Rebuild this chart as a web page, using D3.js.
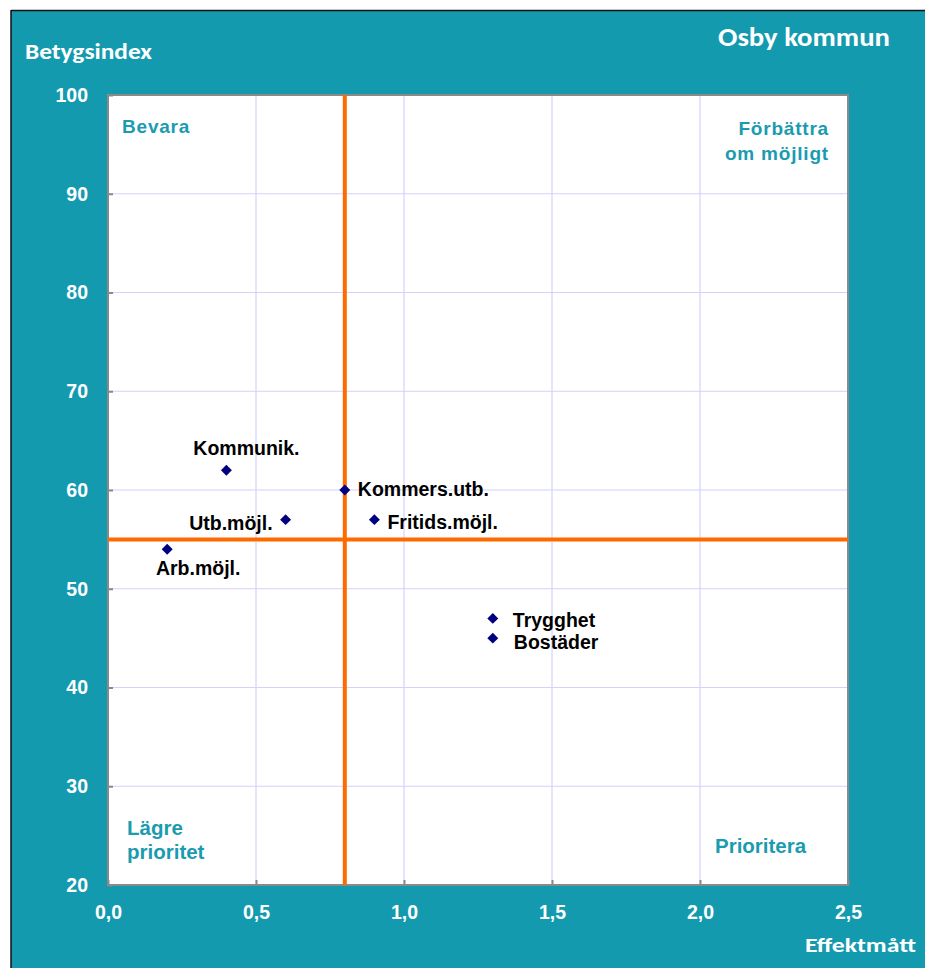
<!DOCTYPE html>
<html><head><meta charset="utf-8">
<script src="https://cdn.jsdelivr.net/npm/d3@7"></script>
<style>
html,body{margin:0;padding:0;background:#fff;}
svg{display:block;}
</style></head>
<body>
<svg id="chart" width="925" height="968"></svg>
<script>
const labels = ["Kommunik.","Kommers.utb.","Utb.möjl.","Fritids.möjl.","Arb.möjl.","Trygghet","Bostäder"];
const effekt = [0.4, 0.8, 0.6, 0.9, 0.2, 1.3, 1.3];
const betyg = [62, 60, 57, 57, 54, 47, 45];
const xTicks = [0, 0.5, 1.0, 1.5, 2.0, 2.5];
const yTicks = [20, 30, 40, 50, 60, 70, 80, 90, 100];
const xCut = 0.8, yCut = 55;
const title = "Osby kommun";
const xTitle = "Effektmått", yTitle = "Betygsindex";

const svg = d3.select("#chart");
const teal = "#149AAF";
const qColor = "#1B9BB0";
svg.append("rect").attr("x",11).attr("y",10).attr("width",914).attr("height",958).attr("fill",teal);
svg.append("line").attr("x1",11).attr("x2",925).attr("y1",10.5).attr("y2",10.5).attr("stroke","#111").attr("stroke-width",1.5);
svg.append("line").attr("x1",11).attr("x2",11).attr("y1",10).attr("y2",968).attr("stroke","#111").attr("stroke-width",1.5);

const L=108, R=848, T=95, B=885;
const x = d3.scaleLinear().domain([0,2.5]).range([L,R]);
const y = d3.scaleLinear().domain([20,100]).range([B,T]);

svg.append("rect").attr("x",L).attr("y",T).attr("width",R-L).attr("height",B-T).attr("fill","#fff");

// grid
svg.append("g").selectAll("line").data(xTicks.slice(1,-1)).join("line")
  .attr("x1",d=>x(d)).attr("x2",d=>x(d)).attr("y1",T).attr("y2",B)
  .attr("stroke","#D2D2FA").attr("stroke-width",1.2);
svg.append("g").selectAll("line").data(yTicks.slice(1,-1)).join("line")
  .attr("x1",L).attr("x2",R).attr("y1",d=>y(d)).attr("y2",d=>y(d))
  .attr("stroke","#D2D2FA").attr("stroke-width",1.2);

// axes with inward ticks
const fmt = d => d3.format(".1f")(d).replace(".", ",");
const xAxis = svg.append("g").attr("transform",`translate(0,${B})`)
  .call(d3.axisBottom(x).tickValues(xTicks).tickSize(-5).tickFormat(fmt).tickPadding(20));
const yAxis = svg.append("g").attr("transform",`translate(${L},0)`)
  .call(d3.axisLeft(y).tickValues(yTicks).tickSize(-5).tickPadding(20));
[xAxis,yAxis].forEach(a=>{
  a.select(".domain").remove();
  a.selectAll(".tick line").attr("stroke","#888").attr("stroke-width",2);
  a.selectAll("text").attr("fill","#fff").attr("font-family","Liberation Sans, Arial, sans-serif")
    .attr("font-weight","bold").attr("font-size",19.5);
});
// border
svg.append("rect").attr("x",L).attr("y",T).attr("width",R-L).attr("height",B-T)
  .attr("fill","none").attr("stroke","#8A8A8A").attr("stroke-width",2);

// cut lines
svg.append("line").attr("x1",x(xCut)).attr("x2",x(xCut)).attr("y1",T).attr("y2",B)
  .attr("stroke","#FF6A00").attr("stroke-width",4);
svg.append("line").attr("x1",L).attr("x2",R).attr("y1",y(yCut)).attr("y2",y(yCut))
  .attr("stroke","#FF6A00").attr("stroke-width",4);

// points
const data = labels.map((l,i)=>({l, x:effekt[i], y:betyg[i]}));
svg.append("g").selectAll("path").data(data).join("path")
  .attr("d", d3.symbol(d3.symbolSquare, 60))
  .attr("transform", d=>`translate(${x(d.x)},${y(d.y)}) rotate(45)`)
  .attr("fill","#000080");

// label placement (offsets relative to each marker)
const place = {
  "Kommunik.":   {dx:20,  dy:-15, a:"middle"},
  "Kommers.utb.":{dx:13,  dy:6,   a:"start"},
  "Utb.möjl.":   {dx:-13, dy:10,  a:"end"},
  "Fritids.möjl.":{dx:13, dy:9,   a:"start"},
  "Arb.möjl.":   {dx:31,  dy:26,  a:"middle"},
  "Trygghet":    {dx:20,  dy:9,   a:"start"},
  "Bostäder":    {dx:21,  dy:11,  a:"start"}
};
const lab = svg.append("g").attr("font-family","Liberation Sans, Arial, sans-serif")
  .attr("font-weight","bold").attr("font-size",19.5).attr("fill","#000");
lab.selectAll("text").data(data).join("text")
  .attr("x",d=>x(d.x)+place[d.l].dx).attr("y",d=>y(d.y)+place[d.l].dy)
  .attr("text-anchor",d=>place[d.l].a).text(d=>d.l);

// quadrant labels
const q = svg.append("g").attr("font-family","Liberation Sans, Arial, sans-serif")
  .attr("font-weight","bold").attr("fill",qColor);
q.append("text").attr("x",122).attr("y",133).attr("font-size",19).attr("letter-spacing",0.8).text("Bevara");
q.append("text").attr("x",829).attr("y",135).attr("font-size",19).attr("text-anchor","end").attr("letter-spacing",0.8).text("Förbättra");
q.append("text").attr("x",829).attr("y",160).attr("font-size",19).attr("text-anchor","end").attr("letter-spacing",0.8).text("om möjligt");
q.append("text").attr("x",127).attr("y",835).attr("font-size",20.5).text("Lägre");
q.append("text").attr("x",127).attr("y",859).attr("font-size",20.5).text("prioritet");
q.append("text").attr("x",715).attr("y",853).attr("font-size",20.5).text("Prioritera");

// titles
const tf = "Carlito, Lato, 'Open Sans', sans-serif";
svg.append("text").attr("x",890).attr("y",46).attr("text-anchor","end").attr("font-family",tf)
  .attr("font-weight","bold").attr("font-size",26).attr("fill","#fff")
  .attr("textLength",172).attr("lengthAdjust","spacingAndGlyphs").text(title);
svg.append("text").attr("x",25).attr("y",59).attr("font-family",tf)
  .attr("font-weight","bold").attr("font-size",22).attr("fill","#fff")
  .attr("textLength",127).attr("lengthAdjust","spacingAndGlyphs").text(yTitle);
svg.append("text").attr("x",916).attr("y",952).attr("text-anchor","end").attr("font-family",tf)
  .attr("font-weight","bold").attr("font-size",21).attr("fill","#fff")
  .attr("textLength",111).attr("lengthAdjust","spacingAndGlyphs").text(xTitle);
</script>
</body></html>
